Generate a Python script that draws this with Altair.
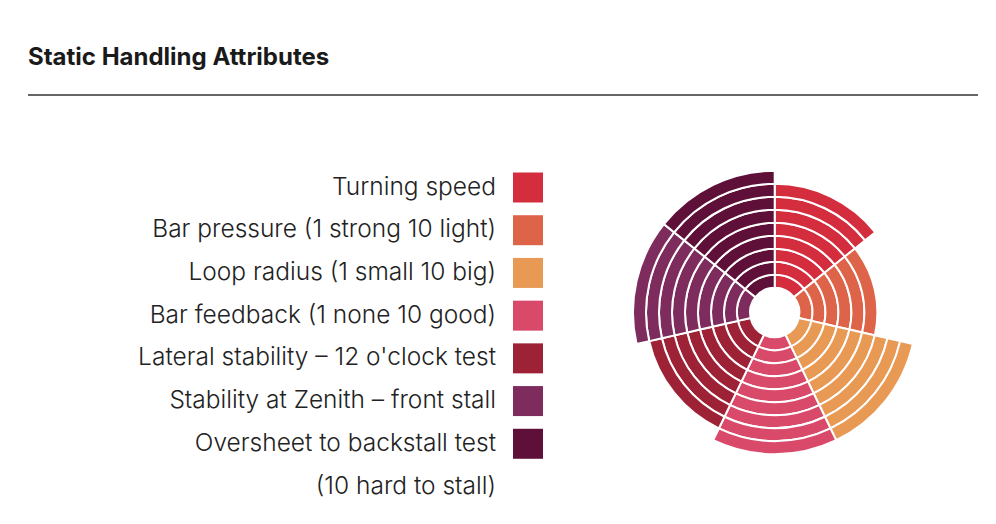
import math
import altair as alt
import pandas as pd

TITLE = "Static Handling Attributes"
categories = [
    "Turning speed",
    "Bar pressure (1 strong 10 light)",
    "Loop radius (1 small 10 big)",
    "Bar feedback (1 none 10 good)",
    "Lateral stability \u2013 12 o'clock test",
    "Stability at Zenith \u2013 front stall",
    "Oversheet to backstall test",
]
values = [8, 6, 9, 9, 8, 9, 9]
colors = ["#D32D3E", "#DE6449", "#E89A55", "#D8496A", "#9E2236", "#7E2C5E", "#5F1038"]
footnote = "(10 hard to stall)"
max_rings = 9

# one row per ring segment
rows = []
for i, (c, v) in enumerate(zip(categories, values)):
    for k in range(v):
        rows.append({"category": c, "t0": i, "t1": i + 1, "r0": k, "r1": k + 1})
rings = pd.DataFrame(rows)

labels = pd.DataFrame({"label": categories + [footnote], "idx": list(range(len(categories) + 1))})
swatches = pd.DataFrame({"category": categories, "idx": list(range(len(categories)))})

color_scale = alt.Scale(domain=categories, range=colors)
y_scale = alt.Scale(domain=[0, 7], range=[187.5, 486.5])

title = alt.Chart(pd.DataFrame({"t": [TITLE]})).mark_text(
    align="left", baseline="middle", font="Inter", fontSize=24, fontWeight="bold", color="#1a1a1a"
).encode(text="t:N", x=alt.value(28), y=alt.value(58))

rule = alt.Chart(pd.DataFrame({"a": [0]})).mark_rule(color="#333333", strokeWidth=1.5).encode(
    x=alt.value(28), x2=alt.value(978), y=alt.value(95)
)

arcs = alt.Chart(rings).mark_arc(stroke="white", strokeWidth=2).encode(
    theta=alt.Theta("t0:Q", scale=alt.Scale(domain=[0, len(categories)], range=[0, 2 * math.pi]), stack=None),
    theta2="t1:Q",
    radius=alt.Radius("r0:Q", scale=alt.Scale(type="linear", domain=[0, max_rings], range=[24.7, 141.7])),
    radius2="r1:Q",
    color=alt.Color("category:N", scale=color_scale, legend=None),
    x=alt.value(774.7),
    y=alt.value(312.5),
)

texts = alt.Chart(labels).mark_text(
    align="right", baseline="middle", font="Inter", fontSize=24.5, fontWeight=300, color="#222222"
).encode(
    text="label:N",
    x=alt.value(496),
    y=alt.Y("idx:Q", scale=y_scale, axis=None),
)

squares = alt.Chart(swatches).mark_square(size=900, opacity=1, filled=True).encode(
    x=alt.value(528),
    y=alt.Y("idx:Q", scale=y_scale, axis=None),
    color=alt.Color("category:N", scale=color_scale, legend=None),
)

chart = alt.layer(title, rule, arcs, texts, squares).properties(
    width=996, height=524, padding=0, autosize="none"
).configure_view(stroke=None)

chart.save("out.html", embed_options={"renderer": "svg", "actions": False})
